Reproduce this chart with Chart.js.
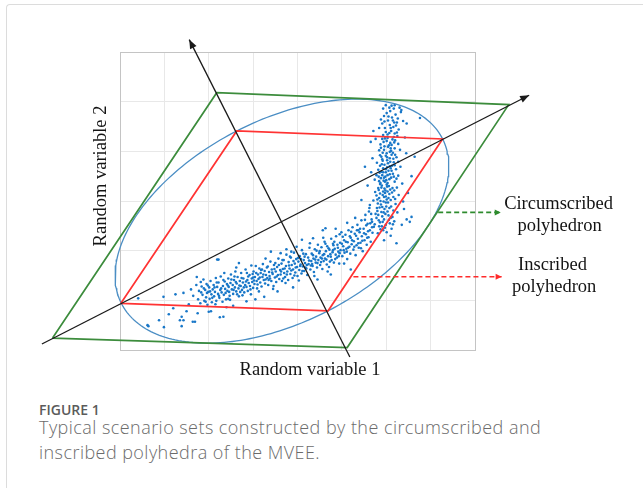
<!DOCTYPE html>
<html>
<head>
<meta charset="utf-8">
<script src="https://cdn.jsdelivr.net/npm/chart.js@4.4.1/dist/chart.umd.min.js"></script>
<style>
  html, body { margin: 0; padding: 0; background: #fff; }
  body { width: 643px; height: 488px; position: relative; overflow: hidden; }
  .card { position: absolute; left: 6px; top: 4px; right: -10px; bottom: -10px;
          border-top: 1px solid #dcdcdc; border-left: 1px solid #dcdcdc; border-top-left-radius: 4px; }
  #chartWrap { position: absolute; left: 0; top: 0; width: 643px; height: 390px; }
  .fig-label { position: absolute; left: 39px; top: 400px; font: 600 14px "Open Sans", sans-serif; color: #5b5b5b; }
  .fig-caption { position: absolute; left: 39px; top: 415px; font: 300 18px/25px "Open Sans", sans-serif;
                 letter-spacing: 0.45px; color: #6b6b6b; white-space: nowrap; }
</style>
</head>
<body>
<div class="card"></div>
<div id="chartWrap"><canvas id="mveeChart" width="643" height="390"></canvas></div>
<div class="fig-label">FIGURE 1</div>
<div class="fig-caption">Typical scenario sets constructed by the circumscribed and<br>inscribed polyhedra of the MVEE.</div>
<script>
// plot box: random variable 1 on [0, 8], random variable 2 on [0, 6]
const xRange = [0, 8];
const yRange = [0, 6];

// inscribed polyhedron (left, top, right, bottom vertices)
const inscribedX = [0.02, 2.63, 7.27, 4.69];
const inscribedY = [0.94, 4.41, 4.25, 0.79];

// circumscribed polyhedron
const circumscribedX = [-1.52, 2.18, 8.76, 5.12];
const circumscribedY = [0.24, 5.18, 4.94, 0.05];

// MVEE centre; the ellipse passes through the inscribed vertices
const mveeCenter = [3.65, 2.595];

// principal axes of the ellipse (tail, tip)
const axis1X = [-1.76, 9.22];
const axis1Y = [0.12, 5.13];
const axis2X = [5.18, 1.56];
const axis2Y = [-0.14, 6.25];

// dashed leader arrows to the labels
const circLeaderX = [7.17, 8.58];
const circLeaderY = [2.77, 2.77];
const inscLeaderX = [5.26, 8.60];
const inscLeaderY = [1.475, 1.475];

// sampled scenarios (random variable 1, random variable 2)
const scenarioPoints = [
  // sparse tail
  [0.41,1.04],[0.64,0.48],[0.62,0.50],[0.98,1.07],[0.99,0.46],[1.20,0.84],[1.35,0.60],[1.39,0.67],[1.43,0.60],
  [1.39,0.48],[1.43,1.15],[1.64,0.57],[1.69,0.57],[1.65,1.09],[2.00,0.77],[2.25,0.66],[2.33,0.67],[1.96,1.15],
  [1.82,1.37],[1.73,1.47],[2.19,1.82],[1.55,0.92],[1.60,1.22],[1.50,0.78],[1.25,1.12],[1.10,0.72],[0.88,0.60],
  [1.75,0.74],
  // lower arm
  [1.72,1.31],[1.76,1.02],[1.78,1.19],[1.81,0.94],[1.84,1.28],[1.86,1.11],[1.88,1.42],[1.90,0.99],[1.92,1.21],
  [1.94,1.06],[1.95,1.33],[1.97,0.91],[1.99,1.17],[2.01,1.26],[2.02,1.03],[2.04,1.39],[2.06,1.12],[2.07,0.96],
  [2.09,1.22],[2.11,1.31],[2.12,1.08],[2.14,1.17],[2.16,1.45],[2.17,0.99],[2.19,1.27],[2.21,1.13],[2.22,1.36],
  [2.24,1.05],[2.26,1.21],[2.27,1.48],[2.29,1.16],[2.31,0.97],[2.32,1.29],[2.34,1.11],[2.36,1.38],[2.37,1.23],
  [2.39,1.02],[2.41,1.33],
  [2.42,1.19],[2.44,1.44],[2.45,1.27],[2.47,1.09],[2.49,1.35],[2.50,1.52],[2.52,1.22],[2.54,1.31],[2.55,1.13],
  [2.57,1.41],[2.59,1.26],[2.60,1.58],[2.62,1.18],[2.63,1.34],[2.65,1.47],[2.67,1.24],[2.68,1.08],[2.70,1.39],
  [2.72,1.29],[2.73,1.55],[2.75,1.21],[2.77,1.36],[2.78,1.44],[2.80,1.16],[2.82,1.31],[2.83,1.62],[2.85,1.27],
  [2.87,1.41],[2.88,1.19],[2.90,1.35],[2.92,1.51],[2.93,1.29],[2.95,1.12],[2.97,1.44],[2.98,1.37],[3.00,1.25],
  [3.01,1.58],[3.03,1.33],[3.04,1.47],[3.06,1.69],[3.08,1.39],[3.09,1.24],[3.11,1.52],[3.12,1.43],[3.14,1.64],
  [3.16,1.36],[3.17,1.55],[3.19,1.28],[3.21,1.47],[3.22,1.73],[3.24,1.41],[3.26,1.59],[3.27,1.34],[3.29,1.51],
  [3.31,1.66],[3.32,1.45],[3.34,1.31],[3.36,1.57],[3.37,1.49],[3.39,1.78],[3.41,1.39],[3.42,1.62],[3.44,1.53],
  [3.46,1.29],[3.47,1.71],[3.49,1.46],[3.51,1.58],[3.52,1.37],[3.54,1.67],[3.56,1.51],[3.57,1.84],[3.59,1.43],
  [3.61,1.61],
  [3.62,1.52],[3.64,1.74],[3.65,1.39],[3.67,1.63],[3.69,1.81],[3.70,1.55],[3.72,1.47],[3.74,1.69],[3.75,1.92],
  [3.77,1.58],[3.79,1.41],[3.80,1.77],[3.82,1.64],[3.84,1.53],[3.85,1.86],[3.87,1.71],[3.89,1.45],[3.90,1.62],
  [3.92,1.96],[3.94,1.74],[3.95,1.56],[3.97,1.83],[3.99,1.67],[4.00,1.49],[4.02,1.78],[4.04,1.61],[4.05,1.89],
  [4.07,1.72],[4.09,1.54],[4.10,2.01],[4.12,1.68],[4.14,1.81],[4.15,1.59],[4.17,1.75],[4.19,1.93],[4.20,1.64],
  [4.22,1.51],[4.24,1.86],[4.25,1.73],[4.27,2.06],
  [4.29,1.62],[4.31,1.79],[4.32,1.94],[4.34,1.69],[4.36,1.84],[4.37,1.57],[4.39,2.03],[4.41,1.76],[4.42,1.88],
  [4.44,1.66],[4.46,2.12],[4.47,1.81],[4.49,1.95],[4.51,1.71],[4.52,1.86],[4.54,2.07],[4.56,1.63],[4.57,1.91],
  [4.59,1.79],[4.61,2.18],[4.62,1.84],[4.64,1.99],[4.66,1.72],[4.67,2.09],[4.69,1.89],[4.71,1.67],[4.72,2.02],
  [4.74,1.93],[4.76,2.24],[4.77,1.81],[4.79,1.97],[4.81,2.11],[4.82,1.76],[4.84,2.04],[4.86,1.92],[4.87,2.29],
  [4.89,1.86],[4.91,2.06],[4.92,1.98],[4.94,1.74],[4.96,2.16],[4.97,2.01],[4.99,2.37],
  [5.01,1.89],[5.03,2.09],[5.05,2.21],[5.06,1.96],[5.08,2.32],[5.10,2.04],[5.12,1.83],[5.13,2.17],[5.15,2.41],
  [5.17,2.08],[5.19,1.94],[5.20,2.26],[5.22,2.13],[5.24,2.47],[5.26,2.02],[5.27,2.19],[5.29,2.34],[5.31,1.91],
  [5.33,2.11],[5.35,2.52],[5.36,2.24],[5.38,2.06],[5.40,2.37],[5.42,2.16],[5.44,2.61],[5.45,2.29],[5.47,1.99],
  [5.49,2.44],[5.51,2.21],[5.53,2.72],[5.54,2.33],[5.56,2.12],[5.58,2.54],[5.60,2.27],[5.62,2.86],[5.63,2.41],
  [5.65,2.18],[5.67,2.63],[5.69,2.36],
  [1.83,1.16],[1.89,1.24],[1.93,0.97],[1.98,1.30],[2.03,1.18],[2.08,1.05],[2.13,1.26],[2.18,1.36],[2.23,1.09],
  [2.28,1.24],[2.33,1.41],[2.38,1.15],[2.43,1.30],[2.46,1.17],[2.51,1.42],[2.56,1.21],[2.61,1.37],[2.64,1.12],
  [2.69,1.30],[2.74,1.45],[2.79,1.26],[2.84,1.38],[2.89,1.48],[2.94,1.22],[2.99,1.53],[3.02,1.40],[3.07,1.55],
  [3.10,1.32],[3.15,1.46],[3.18,1.61],[3.23,1.52],[3.28,1.42],[3.33,1.68],[3.38,1.44],[3.43,1.56],[3.48,1.63],
  [3.53,1.48],[3.58,1.71],[3.63,1.58],[3.66,1.81],[3.71,1.64],[3.76,1.52],[3.81,1.70],[3.86,1.60],[3.91,1.79],
  [3.96,1.66],[4.01,1.85],[4.06,1.69],[4.11,1.59],[4.16,1.88],[4.21,1.71],[4.26,1.80],[4.30,1.70],[4.35,1.91],
  [4.40,1.82],[4.45,1.75],[4.50,1.99],[4.55,1.84],[4.60,1.93],[4.65,1.82],[4.70,2.05],[4.75,1.88],[4.80,2.01],
  [4.85,1.83],[4.90,2.12],[4.95,1.95],[5.00,2.14],[5.04,2.01],[5.09,2.18],[5.14,2.06],[5.18,2.29],[5.23,2.21],
  [5.28,2.08],[5.32,2.30],[5.37,2.15],[5.41,2.44],[5.46,2.20],[5.50,2.35],[5.55,2.51],[5.59,2.39],[5.64,2.55],
  [5.68,2.47],
  [3.20,1.62],[3.35,1.41],[3.50,1.75],[3.68,1.44],[3.83,1.88],[3.93,1.50],[4.08,1.83],[4.18,1.66],[4.33,1.73],
  [4.43,2.00],[4.53,1.77],[4.63,2.14],[4.73,1.78],[4.83,2.18],[4.93,1.89],[5.02,2.28],[5.11,1.98],[5.21,2.38],
  [5.34,2.41],[5.43,2.05],[5.52,2.62],[5.57,2.26],[5.66,2.74],[3.00,1.46],[2.86,1.55],[2.71,1.17],[2.58,1.48],
  [2.44,1.03],[3.86,1.98],[4.13,1.94],
  [2.15,0.92],[2.48,1.01],[2.76,1.10],[3.13,1.18],[3.45,1.23],[3.73,1.35],[4.03,1.40],[4.38,1.49],[4.68,1.58],
  [5.05,1.74],[2.35,1.55],[2.62,1.66],[2.96,1.70],[3.28,1.84],[3.62,1.95],[3.98,2.08],[4.28,2.15],[4.58,2.26],
  [4.86,2.44],[5.30,2.66],
  [4.57,2.41],[4.95,2.33],[3.75,2.03],[4.35,2.25],[4.80,2.14],[4.63,2.45],[5.12,2.56],[3.40,1.98],[2.68,1.75],
  [2.22,1.82],[4.10,2.22],[2.85,0.98],[3.25,1.07],[3.55,1.18],[3.90,1.26],[4.45,1.42],[2.55,0.89],[4.75,1.52],
  [5.20,1.62],[3.05,1.02],[2.05,0.78],[2.40,0.86],
  // upper arm
  [5.72,2.48],[5.81,2.35],[5.86,2.57],[5.93,2.41],[5.78,2.66],[5.99,2.52],[6.05,2.71],[5.89,2.78],[5.95,2.63],
  [6.12,2.44],[5.84,2.49],[6.01,2.37],[5.76,2.74],[6.18,2.59],[5.91,2.69],[6.08,2.55],[5.97,2.46],[6.25,2.77],
  [5.68,2.58],[6.03,2.79],[5.87,2.43],[6.14,2.68],[6.35,2.52],[5.82,2.72],[6.46,2.63],
  [5.79,2.86],[5.88,2.93],[5.96,2.84],[6.04,2.97],[5.84,3.06],[5.92,3.12],[6.01,3.03],[6.11,2.89],[5.75,3.18],
  [5.98,3.21],[6.07,3.14],[5.89,3.27],[6.16,3.08],[5.94,2.99],[6.02,3.29],[5.81,2.95],[6.09,3.23],[5.86,3.15],
  [6.21,2.94],[5.99,3.09],[5.71,3.01],[6.13,3.17],[5.91,2.88],[6.05,3.06],[5.96,3.25],[6.28,3.12],[5.83,3.22],
  [6.24,3.27],[5.63,2.92],[6.38,2.99],
  [5.86,3.34],[5.94,3.41],[6.03,3.36],[6.11,3.47],[5.91,3.52],[5.99,3.58],[6.07,3.44],[5.82,3.63],[6.15,3.55],
  [6.02,3.68],[5.96,3.73],[6.09,3.79],[5.88,3.46],[6.19,3.39],[6.05,3.61],[5.93,3.66],[6.13,3.71],[5.98,3.49],
  [5.79,3.77],[6.22,3.64],[6.01,3.33],[5.90,3.74],[6.08,3.54],[5.85,3.57],[6.17,3.78],[5.97,3.39],[6.04,3.76],
  [6.27,3.51],[5.74,3.43],[6.32,3.69],
  [5.91,3.84],[5.99,3.91],[6.08,3.86],[6.15,3.97],[5.95,4.03],[6.04,4.09],[6.12,3.93],[5.87,4.14],[6.19,4.06],
  [6.01,4.21],[6.09,4.17],[5.97,4.26],[6.14,4.24],[5.92,3.97],[6.23,3.88],[6.06,4.12],[5.84,4.02],[6.17,4.29],
  [6.02,3.82],[5.94,4.19],[6.11,4.01],[6.27,4.15],[5.89,3.89],[6.31,4.03],
  [6.03,4.34],[6.11,4.41],[6.19,4.36],[5.97,4.47],[6.08,4.53],[6.16,4.49],[6.24,4.58],[6.04,4.62],[6.13,4.68],
  [5.95,4.71],[6.21,4.74],[6.09,4.81],[6.17,4.86],[6.28,4.44],[5.91,4.56],[6.01,4.77],[6.26,4.66],[6.12,4.92],
  [6.33,4.79],[5.88,4.64],
  [5.74,2.53],[5.83,2.61],[5.90,2.49],[5.98,2.74],[6.06,2.62],[5.80,2.80],[5.92,2.58],[6.15,2.53],[6.00,2.89],
  [5.87,3.00],[5.95,3.08],[6.03,3.19],[5.78,3.11],[6.10,3.02],[5.90,3.31],[6.18,3.21],[5.97,3.16],[6.06,3.30],
  [5.84,3.40],[5.95,3.47],[6.03,3.52],[6.12,3.61],[5.89,3.59],[5.99,3.64],[6.08,3.70],[5.92,3.81],[6.16,3.85],
  [6.01,3.96],[6.08,3.99],[5.96,4.10],[6.12,4.13],[6.03,4.27],[6.20,4.22],[5.99,4.39],[6.10,4.47],[6.22,4.52],
  [6.05,4.70],[6.15,4.62],[6.19,4.93],[6.07,4.88],[5.82,3.26],[6.23,3.45],[5.78,3.52],[6.27,3.79],[5.86,3.92],
  [6.24,4.38],[5.93,4.33],[6.36,3.35],[5.66,3.58],[6.40,2.84],[5.69,3.86],[6.45,3.96],[5.76,4.25],
  [5.94,2.77],[6.10,2.66],[5.85,2.87],[6.16,2.81],[5.99,2.97],[6.07,2.86],[5.80,3.03],[6.20,3.04],[5.93,3.19],
  [6.14,3.26],[5.87,3.36],[6.00,3.42],[6.17,3.49],[5.83,3.49],[6.10,3.66],[5.93,3.58],[6.19,3.72],[5.86,3.71],
  [6.02,3.88],[6.20,3.93],[5.88,4.07],[6.10,4.06],[6.18,4.18],[5.91,4.25],[6.07,4.37],[6.25,4.31],[5.96,4.60],
  [6.18,4.58],[6.30,4.88],[5.99,4.93],[6.38,4.61],[5.84,4.47],
  [5.37,2.41],[5.52,3.69],[5.65,4.19],[6.53,2.58],[6.57,3.50],[6.76,4.67],[6.46,4.56],[6.34,4.83],[5.93,4.86],
  [6.64,3.89],[5.44,3.02],[6.57,2.68],[5.58,3.31],[6.49,3.16],[5.61,2.79],[6.42,4.28],[5.71,4.41],[6.23,2.15],
  [5.95,2.21],[6.10,2.30]
];

const toXY = (xs, ys) => xs.map((x, i) => ({ x: x, y: ys[i] }));
const closed = (xs, ys) => toXY(xs.concat(xs[0]), ys.concat(ys[0]));

// MVEE outline from its centre and two conjugate semi-diameters
function mveeOutline() {
  const cx = mveeCenter[0], cy = mveeCenter[1];
  const ux = inscribedX[2] - cx, uy = inscribedY[2] - cy;
  const vx = inscribedX[1] - cx, vy = inscribedY[1] - cy;
  const pts = [];
  for (let i = 0; i <= 240; i++) {
    const t = i / 240 * 2 * Math.PI;
    pts.push({ x: cx + ux * Math.cos(t) + vx * Math.sin(t), y: cy + uy * Math.cos(t) + vy * Math.sin(t) });
  }
  return pts;
}

function arrow(data, color, width, head, dash) {
  return {
    data: data,
    showLine: true,
    clip: false,
    borderColor: color,
    borderWidth: width,
    borderDash: dash || [],
    pointRadius: 0,
    arrowHead: head
  };
}

function polyline(data, color, width) {
  return {
    data: data,
    showLine: true,
    clip: false,
    borderColor: color,
    borderWidth: width,
    pointRadius: 0,
    tension: 0
  };
}

// filled heads at the last point of every dataset that has arrowHead set
const arrowHeads = {
  id: 'arrowHeads',
  afterDatasetsDraw(chart) {
    const c = chart.ctx;
    chart.data.datasets.forEach((ds, i) => {
      if (!ds.arrowHead) return;
      const pts = chart.getDatasetMeta(i).data;
      const tip = pts[pts.length - 1], prev = pts[pts.length - 2];
      const a = Math.atan2(tip.y - prev.y, tip.x - prev.x);
      const len = ds.arrowHead[0], half = ds.arrowHead[1];
      c.save();
      c.translate(tip.x, tip.y);
      c.rotate(a);
      c.fillStyle = ds.borderColor;
      c.beginPath();
      c.moveTo(0, 0);
      c.lineTo(-len, -half);
      c.lineTo(-len, half);
      c.closePath();
      c.fill();
      c.restore();
    });
  }
};

const textLabels = {
  id: 'textLabels',
  afterDraw(chart) {
    const c = chart.ctx;
    c.save();
    c.fillStyle = '#141414';
    c.font = '18.5px "Liberation Serif", "Times New Roman", serif';
    c.textAlign = 'center';
    c.textBaseline = 'alphabetic';
    c.fillText('Random variable 1', 310, 375);
    c.fillText('Circumscribed', 558.6, 209);
    c.fillText('polyhedron', 559.6, 230.5);
    c.fillText('Inscribed', 552.5, 270);
    c.fillText('polyhedron', 554.2, 291.5);
    c.translate(106, 176);
    c.rotate(-Math.PI / 2);
    c.fillText('Random variable 2', 0, 0);
    c.restore();
  }
};

const gridColor = (edge) => (ctx) =>
  (ctx.tick && (ctx.tick.value === edge[0] || ctx.tick.value === edge[1])) ? '#c4c4c4' : '#e8e8e8';

new Chart(document.getElementById('mveeChart'), {
  type: 'scatter',
  data: {
    datasets: [
      arrow(toXY(axis1X, axis1Y), '#1a1a1a', 1.3, [9, 3.6]),
      arrow(toXY(axis2X, axis2Y), '#1a1a1a', 1.3, [9, 3.6]),
      arrow(toXY(circLeaderX, circLeaderY), '#2e8b2e', 1.6, [6, 3], [5, 3]),
      arrow(toXY(inscLeaderX, inscLeaderY), '#ff2b2b', 1.6, [6, 3], [5, 3]),
      polyline(closed(inscribedX, inscribedY), '#ff3333', 1.7),
      polyline(closed(circumscribedX, circumscribedY), '#3c8c3c', 1.7),
      polyline(mveeOutline(), '#4b8ec4', 1.3),
      {
        data: scenarioPoints.map(p => ({ x: p[0], y: p[1] })),
        pointRadius: 1.3,
        pointBorderWidth: 0,
        pointBackgroundColor: '#1877c8',
        clip: false
      }
    ]
  },
  options: {
    responsive: false,
    animation: false,
    devicePixelRatio: 1,
    layout: { padding: { left: 120, top: 52, right: 168, bottom: 40 } },
    plugins: { legend: { display: false }, tooltip: { enabled: false } },
    scales: {
      x: {
        type: 'linear', min: xRange[0], max: xRange[1],
        ticks: { display: false, stepSize: 1 },
        grid: { color: gridColor(xRange), drawTicks: false, lineWidth: 1 },
        border: { color: '#c4c4c4' }
      },
      y: {
        type: 'linear', min: yRange[0], max: yRange[1],
        ticks: { display: false, stepSize: 1 },
        grid: { color: gridColor(yRange), drawTicks: false, lineWidth: 1 },
        border: { color: '#c4c4c4' }
      }
    }
  },
  plugins: [arrowHeads, textLabels]
});
</script>
</body>
</html>
